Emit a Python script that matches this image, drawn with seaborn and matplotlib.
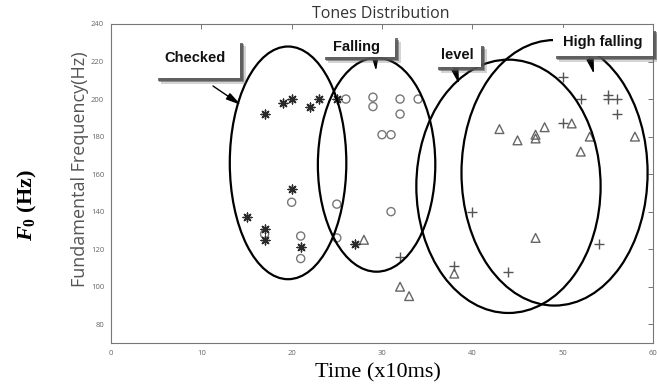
import matplotlib
matplotlib.use("Agg")
import matplotlib.pyplot as plt
import seaborn as sns
import pandas as pd
from matplotlib.patches import Ellipse, Rectangle

# ---------------- data ----------------
checked_x = [15, 17, 17, 17, 19, 20, 20, 21, 22, 23, 25, 27]
checked_y = [137, 192, 131, 125, 198, 200, 152, 121, 196, 200, 200, 123]

falling_x = [17, 20, 21, 21, 25, 25, 26, 29, 29, 30, 31, 31, 32, 32, 34]
falling_y = [128, 145, 127, 115, 144, 126, 200, 201, 196, 181, 181, 140, 200, 192, 200]

level_x = [28, 32, 33, 38, 43, 45, 47, 47, 47, 48, 51, 52, 53, 58]
level_y = [125, 100, 95, 107, 184, 178, 181, 179, 126, 185, 187, 172, 180, 180]

hf_x = [32, 38, 40, 44, 50, 50, 52, 54, 55, 55, 56, 56]
hf_y = [116, 111, 140, 108, 212, 187, 200, 123, 202, 200, 200, 192]

# cluster ellipses: name, center x, center y, width, height
ell_names = ["Checked", "Falling", "level", "High falling"]
ell_cx = [19.6, 29.4, 44.0, 49.1]
ell_cy = [166, 165, 153.5, 160.7]
ell_w = [12.9, 13.0, 20.4, 20.6]
ell_h = [124, 114, 135, 141.5]

x_ticks = [0, 10, 20, 30, 40, 50, 60]
y_ticks = [80, 100, 120, 140, 160, 180, 200, 220, 240]

title = "Tones Distribution"
inner_ylabel = "Fundamental Frequency(Hz)"
outer_xlabel = "Time (x10ms)"
outer_ylabel = r"$F_0$ (Hz)"

# ---------------- style ----------------
sns.set_style("white")
plt.rcParams["font.family"] = ["Open Sans", "DejaVu Sans"]
plt.rcParams["mathtext.fontset"] = "custom"
plt.rcParams["mathtext.rm"] = "Liberation Serif:bold"
plt.rcParams["mathtext.bf"] = "Liberation Serif:bold"
plt.rcParams["mathtext.it"] = "Liberation Serif:italic:bold"

W, H = 657, 390
fig = plt.figure(figsize=(W / 100, H / 100), dpi=100)
fig.patch.set_facecolor("white")

ax_l, ax_t, ax_r, ax_b = 111, 24, 653, 343
ax = fig.add_axes([ax_l / W, 1 - ax_b / H, (ax_r - ax_l) / W, (ax_b - ax_t) / H])


def fx(px):
    return px / W


def fy(py):
    return 1 - py / H


df_c = pd.DataFrame({"t": checked_x, "f": checked_y})
df_f = pd.DataFrame({"t": falling_x, "f": falling_y})
df_l = pd.DataFrame({"t": level_x, "f": level_y})
df_h = pd.DataFrame({"t": hf_x, "f": hf_y})

sns.scatterplot(data=df_f, x="t", y="f", ax=ax, marker="o", s=34,
                color="#777777", facecolor="none", edgecolor="#777777",
                linewidth=1.0, zorder=3)
sns.scatterplot(data=df_l, x="t", y="f", ax=ax, marker="^", s=40,
                color="#666666", facecolor="none", edgecolor="#666666",
                linewidth=1.0, zorder=3)
sns.scatterplot(data=df_h, x="t", y="f", ax=ax, marker="+", s=50,
                color="#555555", linewidth=1.0, zorder=3)
sns.scatterplot(data=df_c, x="t", y="f", ax=ax, marker=(8, 2, 0), s=40,
                color="#2a2a2a", linewidth=1.0, zorder=4)

for cx, cy, w, h in zip(ell_cx, ell_cy, ell_w, ell_h):
    ax.add_patch(Ellipse((cx, cy), w, h, fill=False, edgecolor="black",
                         linewidth=1.6, zorder=5))

ax.set_xlim(0, 60)
ax.set_ylim(70, 240)
ax.set_xticks(x_ticks)
ax.set_yticks(y_ticks)
ax.set_xticklabels([str(v) for v in x_ticks])
ax.set_yticklabels([str(v) for v in y_ticks])
ax.tick_params(direction="in", length=3.5, width=0.7, colors="#777777",
               labelsize=5.5, labelcolor="#666666", top=True, right=True,
               labeltop=False, labelright=False, pad=5)
for sp in ax.spines.values():
    sp.set_visible(True)
    sp.set_color("#777777")
    sp.set_linewidth(0.8)
ax.set_xlabel("")
ax.set_ylabel("")

# title and inner y label (part of the screenshot)
fig.text(fx(381), fy(14), title, ha="center", va="center", fontsize=11.5,
         color="#333333", family=["Open Sans", "DejaVu Sans"])
fig.text(fx(80), fy(169), inner_ylabel, ha="center", va="center",
         rotation=90, fontsize=13, color="#555555",
         family=["Open Sans", "DejaVu Sans"])

# outer labels (Times style)
fig.text(fx(378), fy(373), outer_xlabel, ha="center", va="center",
         fontsize=16, color="black", family=["Liberation Serif"])
fig.text(fx(27), fy(205), outer_ylabel, ha="center", va="center",
         rotation=90, fontsize=16, color="black",
         family=["Liberation Serif"], fontweight="bold")

# label boxes with drop shadows: text, text center, box (x0, y0, x1, y1), arrow (x0,y0,x1,y1)
labels = [
    ("Checked", (195, 58), (155, 40, 240, 78), (213, 86, 241, 105)),
    ("Falling", (356, 47), (322, 36, 395, 57), (375, 55, 376, 71)),
    ("level", (457, 55), (435, 43, 481, 67), (454, 66, 459, 84)),
    ("High falling", (603, 42), (553, 28, 653, 56), (589, 55, 594, 74)),
]
for txt, (tx, ty), (x0, y0, x1, y1), (ax0, ay0, ax1, ay1) in labels:
    for off, alpha in [(6, 0.25), (4, 0.55), (2.5, 0.8)]:
        fig.patches.append(Rectangle((fx(x0 + off), fy(y1 + off)),
                                     (x1 - x0) / W, (y1 - y0) / H,
                                     transform=fig.transFigure,
                                     facecolor="#555555", edgecolor="none",
                                     alpha=alpha, zorder=6))
    fig.patches.append(Rectangle((fx(x0), fy(y1)), (x1 - x0) / W, (y1 - y0) / H,
                                 transform=fig.transFigure, facecolor="white",
                                 edgecolor="none", zorder=7))
    fig.text(fx(tx), fy(ty), txt, ha="center", va="center", fontsize=10.5,
             fontweight="bold", color="#111111",
             family=["Liberation Sans", "DejaVu Sans"], zorder=8)
    ax.annotate("", xy=(fx(ax1), fy(ay1)), xycoords="figure fraction",
                xytext=(fx(ax0), fy(ay0)), textcoords="figure fraction",
                arrowprops=dict(arrowstyle="-|>,head_length=0.9,head_width=0.22",
                                color="black", lw=1.0, shrinkA=0, shrinkB=0),
                zorder=9, annotation_clip=False)

fig.savefig("out.png", dpi=100)
